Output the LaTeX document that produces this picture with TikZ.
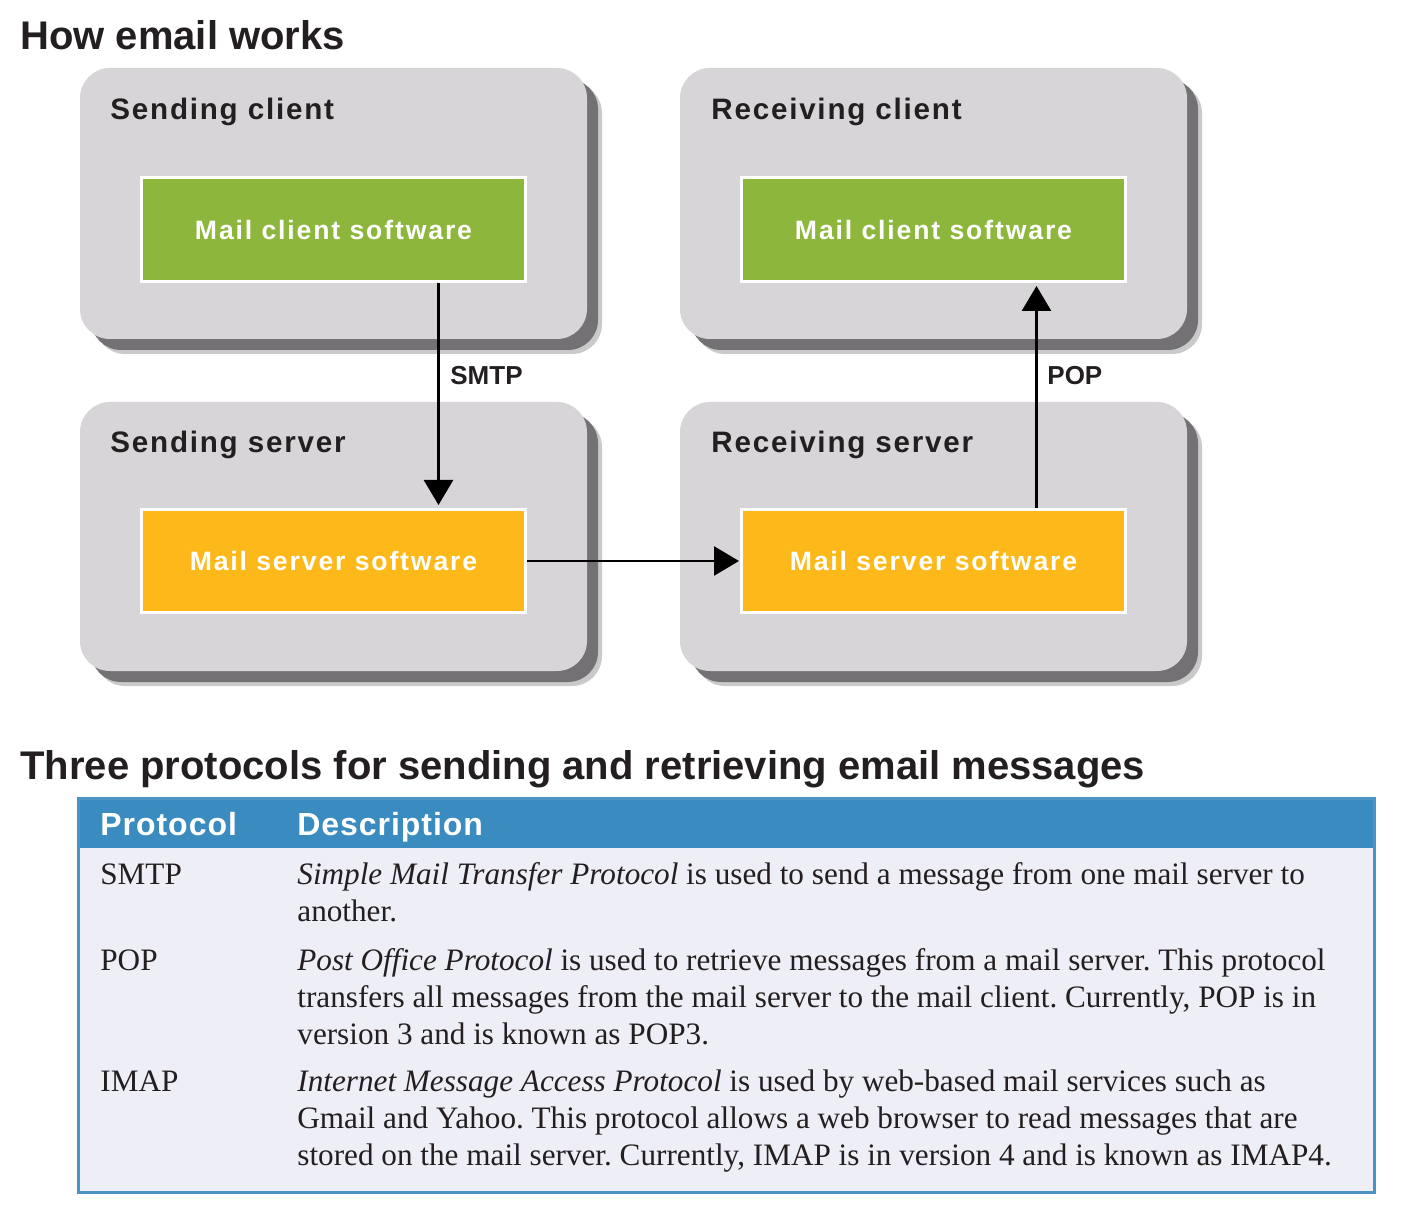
\documentclass[tikz,border=0pt]{standalone}
\usepackage{fontspec}
\setmainfont{Liberation Serif}
\newfontfamily\hsans{Liberation Sans}
\newfontfamily\hsanst{Liberation Sans}[LetterSpace=6]
\newfontfamily\hsansi{Liberation Sans}[LetterSpace=7]
\newfontfamily\hsansh{Liberation Sans}[LetterSpace=3]
\usetikzlibrary{arrows.meta,shadows}
\definecolor{boxgray}{HTML}{D7D5D8}
\definecolor{shadowc}{HTML}{6B686C}
\definecolor{mgreen}{HTML}{8DB63C}
\definecolor{morange}{HTML}{FDB91A}
\definecolor{tblue}{HTML}{3A8BBF}
\definecolor{tborder}{HTML}{4B93C5}
\definecolor{tbody}{HTML}{EEEEF6}
\definecolor{inkc}{HTML}{231F20}
\frenchspacing
\begin{document}
\begin{tikzpicture}[x=0.5pt,y=-0.5pt,
  graybox/.style={rectangle, rounded corners=15pt, fill=boxgray, inner sep=0pt,
    minimum width=253.5pt, minimum height=135.5pt,
    general shadow={fill=shadowc, opacity=.35, shadow xshift=7.5pt, shadow yshift=-7.5pt},
    general shadow={fill=shadowc, opacity=.9, shadow xshift=5.5pt, shadow yshift=-5.5pt}},
  softbox/.style={rectangle, draw=white, line width=1.5pt, inner sep=0pt,
    minimum width=192pt, minimum height=52pt, text=white,
    font=\hsansi\bfseries\fontsize{13.3}{16}\selectfont},
  clientsw/.style={softbox, fill=mgreen},
  serversw/.style={softbox, fill=morange, minimum height=51.5pt},
  btitle/.style={anchor=base west, inner sep=0pt, text=inkc,
    font=\hsanst\bfseries\fontsize{14.8}{18}\selectfont},
  heading/.style={anchor=base west, inner sep=0pt, text=inkc,
    font=\hsans\bfseries\fontsize{20}{24}\selectfont},
  proto/.style={anchor=base west, inner sep=0pt, text=inkc,
    font=\hsans\bfseries\fontsize{13}{16}\selectfont},
  arr/.style={line width=1.4pt, -{Triangle[length=12.5pt,width=14.5pt]}},
  thead/.style={anchor=base west, inner sep=0pt, text=white,
    font=\hsansh\bfseries\fontsize{16}{19}\selectfont},
  tcell/.style={anchor=base west, inner sep=0pt, text=inkc,
    font=\fontsize{15.6}{18.5}\selectfont}
]
\useasboundingbox[fill=white] (0,0) rectangle (1403,1219);

% ---------- How email works ----------
\node[heading] (title1) at (20,49.5) {How email works};

\node[graybox] (sc) at (333.5,203.5) {};
\node[graybox] (rc) at (933.5,203.5) {};
\node[graybox, minimum height=134.5pt] (ss) at (333.5,536.5) {};
\node[graybox, minimum height=134.5pt] (rs) at (933.5,536.5) {};

\node[btitle] (sct) at (110,120) {Sending client};
\node[btitle] (rct) at (711,120) {Receiving client};
\node[btitle] (sst) at (110,453) {Sending server};
\node[btitle] (rst) at (711,453) {Receiving server};

\node[clientsw] (scg) at (333.5,229.5) {Mail client software};
\node[clientsw] (rcg) at (933.5,229.5) {Mail client software};
\node[serversw] (sso) at (333.5,561) {Mail server software};
\node[serversw] (rso) at (933.5,561) {Mail server software};

\coordinate (smtpx) at (438.5,0);
\coordinate (popx) at (1036.5,0);
\draw[arr, shorten >=1.5pt] (scg.south -| smtpx) -- (sso.north -| smtpx);
\draw[arr, shorten >=1.5pt] (rso.north -| popx) -- (rcg.south -| popx);
\draw[arr, shorten >=0.5pt] (sso.east) -- (rso.west);

\node[proto] (smtpl) at (450,385) {SMTP};
\node[proto] (popl) at (1047,385) {POP};

% ---------- Protocol table ----------
\node[heading] (title2) at (20,779) {Three protocols for sending and retrieving email messages};

\node[rectangle, fill=tbody, inner sep=0pt, minimum width=647.5pt, minimum height=196.5pt] (tbl) at (726.5,995.5) {};
\node[rectangle, fill=tblue, inner sep=0pt, minimum width=647.5pt, minimum height=24.5pt, anchor=north] (thd) at (tbl.north) {};
\draw[tborder, line width=1.5pt] (tbl.north west) rectangle (tbl.south east);

\node[thead] (hp) at (100,835) {Protocol};
\node[thead] (hd) at (297,835) {Description};

\node[tcell] (p1) at (100,884.5) {SMTP};
\node[tcell] (d1a) at (297,884.5) {\textit{Simple Mail Transfer Protocol} is used to send a message from one mail server to};
\node[tcell] (d1b) at (297,921.5) {another.};

\node[tcell] (p2) at (100,970) {POP};
\node[tcell] (d2a) at (297,970) {\textit{Post Office Protocol} is used to retrieve messages from a mail server. This protocol};
\node[tcell] (d2b) at (297,1007) {transfers all messages from the mail server to the mail client. Currently, POP is in};
\node[tcell] (d2c) at (297,1044) {version 3 and is known as POP3.};

\node[tcell] (p3) at (100,1091) {IMAP};
\node[tcell] (d3a) at (297,1091) {\textit{Internet Message Access Protocol} is used by web-based mail services such as};
\node[tcell] (d3b) at (297,1128) {Gmail and Yahoo. This protocol allows a web browser to read messages that are};
\node[tcell] (d3c) at (297,1165) {stored on the mail server. Currently, IMAP is in version 4 and is known as IMAP4.};
\end{tikzpicture}
\end{document}
